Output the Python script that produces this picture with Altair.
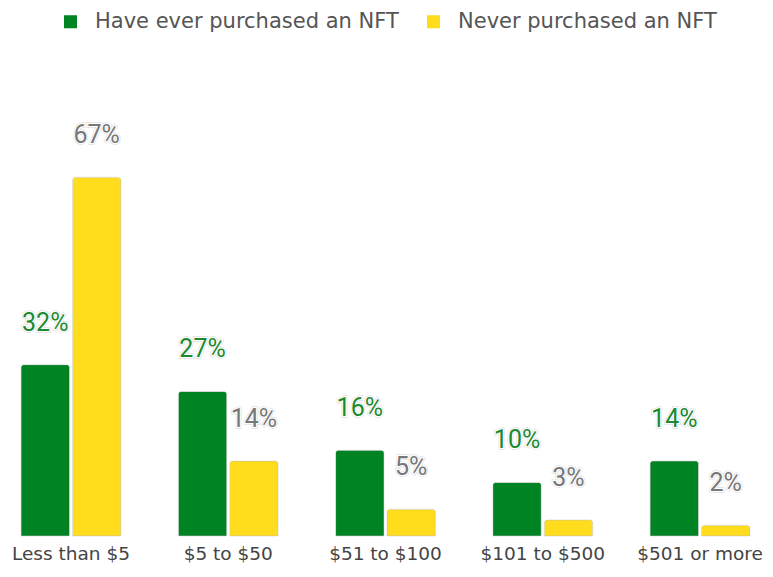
import altair as alt
import pandas as pd

categories = ["Less than $5", "$5 to $50", "$51 to $100", "$101 to $500", "$501 or more"]
series = ["Have ever purchased an NFT", "Never purchased an NFT"]
have_ever = [32, 27, 16, 10, 14]
never = [67, 14, 5, 3, 2]

rows = []
for i, c in enumerate(categories):
    rows.append({"category": c, "series": series[0], "value": have_ever[i], "label": f"{have_ever[i]}%"})
    rows.append({"category": c, "series": series[1], "value": never[i], "label": f"{never[i]}%"})
df = pd.DataFrame(rows)

GREEN = "#008323"
YELLOW = "#FFDD1C"

x = alt.X(
    "category:N",
    sort=categories,
    scale=alt.Scale(paddingInner=0.365, paddingOuter=0.083),
    axis=alt.Axis(
        title=None, labelAngle=0, ticks=False, domain=False, grid=False,
        labelFont="DejaVu Sans", labelFontSize=18.5, labelColor="#444", labelPadding=8,
    ),
)
xoff = alt.XOffset("series:N", sort=series, scale=alt.Scale(paddingInner=0.058, paddingOuter=0))
y = alt.Y("value:Q", scale=alt.Scale(domain=[0, 93.0], nice=False), axis=None)

base = alt.Chart(df).encode(x=x, xOffset=xoff, y=y)

bars = base.mark_bar(
    cornerRadiusTopLeft=3, cornerRadiusTopRight=3,
    stroke="#bbbbbb", strokeWidth=0.6, strokeOpacity=0.6,
).encode(
    color=alt.Color(
        "series:N", sort=series,
        scale=alt.Scale(domain=series, range=[GREEN, YELLOW]),
        legend=alt.Legend(
            title=None, orient="none", legendX=52, legendY=-27, direction="horizontal",
            symbolType="square", symbolSize=169, symbolStrokeWidth=0, symbolOpacity=1,
            labelFont="DejaVu Sans", labelFontSize=21, labelColor="#555",
            columnPadding=24, labelOffset=14, labelLimit=400,
        ),
    )
)

text_kw = dict(font="Roboto", fontSize=25, dy=-34, baseline="alphabetic", align="center")

halo_outer = base.mark_text(stroke="#e2e2e2", strokeWidth=3.5, fill="#e2e2e2", **text_kw).encode(text="label:N")
halo_inner = base.mark_text(stroke="white", strokeWidth=2.2, fill="white", **text_kw).encode(text="label:N")
labels = base.mark_text(**text_kw).encode(
    text="label:N",
    fill=alt.Fill("series:N", sort=series, scale=alt.Scale(domain=series, range=["#1b8a2f", "#777777"]), legend=None),
)

chart = (
    alt.layer(bars, halo_outer, halo_inner, labels)
    .properties(
        width=755, height=498,
        padding={"left": 0, "right": 2, "top": 30, "bottom": 30},
        autosize=alt.AutoSizeParams(type="none"),
    )
    .configure_view(stroke=None)
)

chart.save("out.html", embed_options={"renderer": "svg", "actions": False})
